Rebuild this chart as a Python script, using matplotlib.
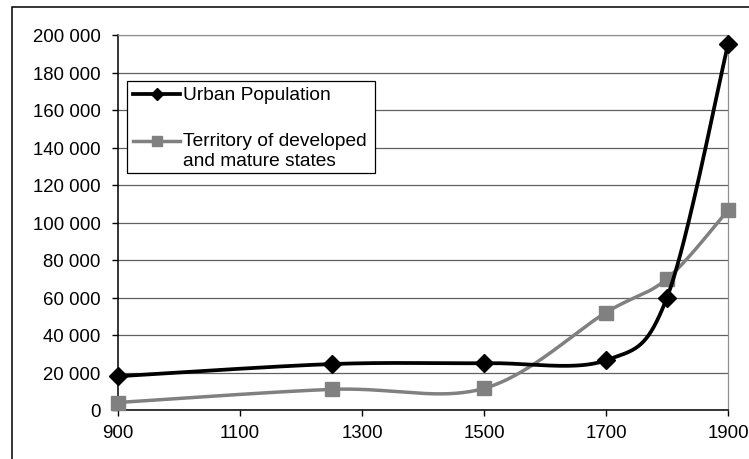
import numpy as np
import matplotlib.pyplot as plt
from matplotlib.patches import Rectangle
from matplotlib.lines import Line2D
from matplotlib.ticker import FuncFormatter

plt.rcParams['font.family'] = ['Liberation Sans', 'DejaVu Sans']

years = [900, 1250, 1500, 1700, 1800, 1900]
urban_pop = [18000, 24500, 25000, 26500, 60000, 195000]
territory = [4000, 11000, 11500, 52000, 70000, 106500]
x_ticks = [900, 1100, 1300, 1500, 1700, 1900]
labels = ['Urban Population', 'Territory of developed\nand mature states']

W, H = 749, 460


def smooth(xs, ys, n=60):
    # excel-like smoothing, catmull-rom style bezier between points
    pts = np.column_stack([xs, ys]).astype(float)
    out = []
    for i in range(len(pts) - 1):
        p0 = pts[max(i - 1, 0)]
        p1 = pts[i]
        p2 = pts[i + 1]
        p3 = pts[min(i + 2, len(pts) - 1)]
        c1 = p1 + (p2 - p0) / 6
        c2 = p2 - (p3 - p1) / 6
        t = np.linspace(0, 1, n)[:, None]
        seg = (1 - t) ** 3 * p1 + 3 * (1 - t) ** 2 * t * c1 + 3 * (1 - t) * t ** 2 * c2 + t ** 3 * p2
        out.append(seg)
    out = np.vstack(out)
    return out[:, 0], out[:, 1]


def fx(px):
    return px / W


def fy(py):
    return 1 - py / H


fig = plt.figure(figsize=(7.49, 4.6), dpi=100)
fig.patches.append(Rectangle((fx(12), -0.1), 1.2, (H - 8) / H + 0.1,
                             transform=fig.transFigure, fill=False,
                             edgecolor='black', linewidth=1.1))

ax = fig.add_axes([fx(118), 49 / H, (728 - 118) / W, (411 - 36) / H])

sx, sy = smooth(years, urban_pop)
ax.plot(sx, sy, color='black', lw=2.7, zorder=4, solid_capstyle='butt')
ax.plot(years, urban_pop, linestyle='none', marker='D', color='black',
        markersize=9.5, zorder=5, clip_on=False)
sx, sy = smooth(years, territory)
ax.plot(sx, sy, color='#808080', lw=2.5, zorder=3, solid_capstyle='butt')
ax.plot(years, territory, linestyle='none', marker='s', color='#808080',
        markersize=10.5, zorder=3, clip_on=False)

ax.set_xlim(900, 1900)
ax.set_ylim(0, 200000)
ax.set_xticks(x_ticks)
ax.set_yticks(range(0, 200001, 20000))
ax.yaxis.set_major_formatter(FuncFormatter(lambda v, p: f"{int(v):,}".replace(',', ' ')))
ax.grid(axis='y', color='#606060', lw=0.9)
ax.set_axisbelow(True)
for s in ['top', 'right']:
    ax.spines[s].set_color('#909090')
    ax.spines[s].set_linewidth(0.9)
for s in ['left', 'bottom']:
    ax.spines[s].set_color('black')
    ax.spines[s].set_linewidth(1.1)
ax.tick_params(labelsize=13.4, length=4, width=1, colors='black')
ax.tick_params(axis='y', pad=8.5)
ax.tick_params(axis='x', pad=6)

# legend drawn by hand, excel puts the handle on the first text line
fig.patches.append(Rectangle((fx(127), fy(174)), fx(375) - fx(127), fy(82) - fy(174),
                             transform=fig.transFigure, facecolor='white',
                             edgecolor='black', linewidth=0.9, zorder=10))
handles = [('black', 'D', 6.5, 2.7), ('#808080', 's', 7.5, 2.5)]
rows = [95, 142]
for (col, mk, ms, lw), lab, yy in zip(handles, labels, rows):
    fig.add_artist(Line2D([fx(133), fx(156.5), fx(180)], [fy(yy)] * 3,
                          transform=fig.transFigure, color=col, lw=lw,
                          marker=mk, markersize=ms, markevery=[1], zorder=11))
    for k, line in enumerate(lab.split('\n')):
        fig.text(fx(183), fy(yy + 20 * k), line, fontsize=13.8,
                 va='center', ha='left', zorder=11)

fig.savefig('out.png', dpi=100)
